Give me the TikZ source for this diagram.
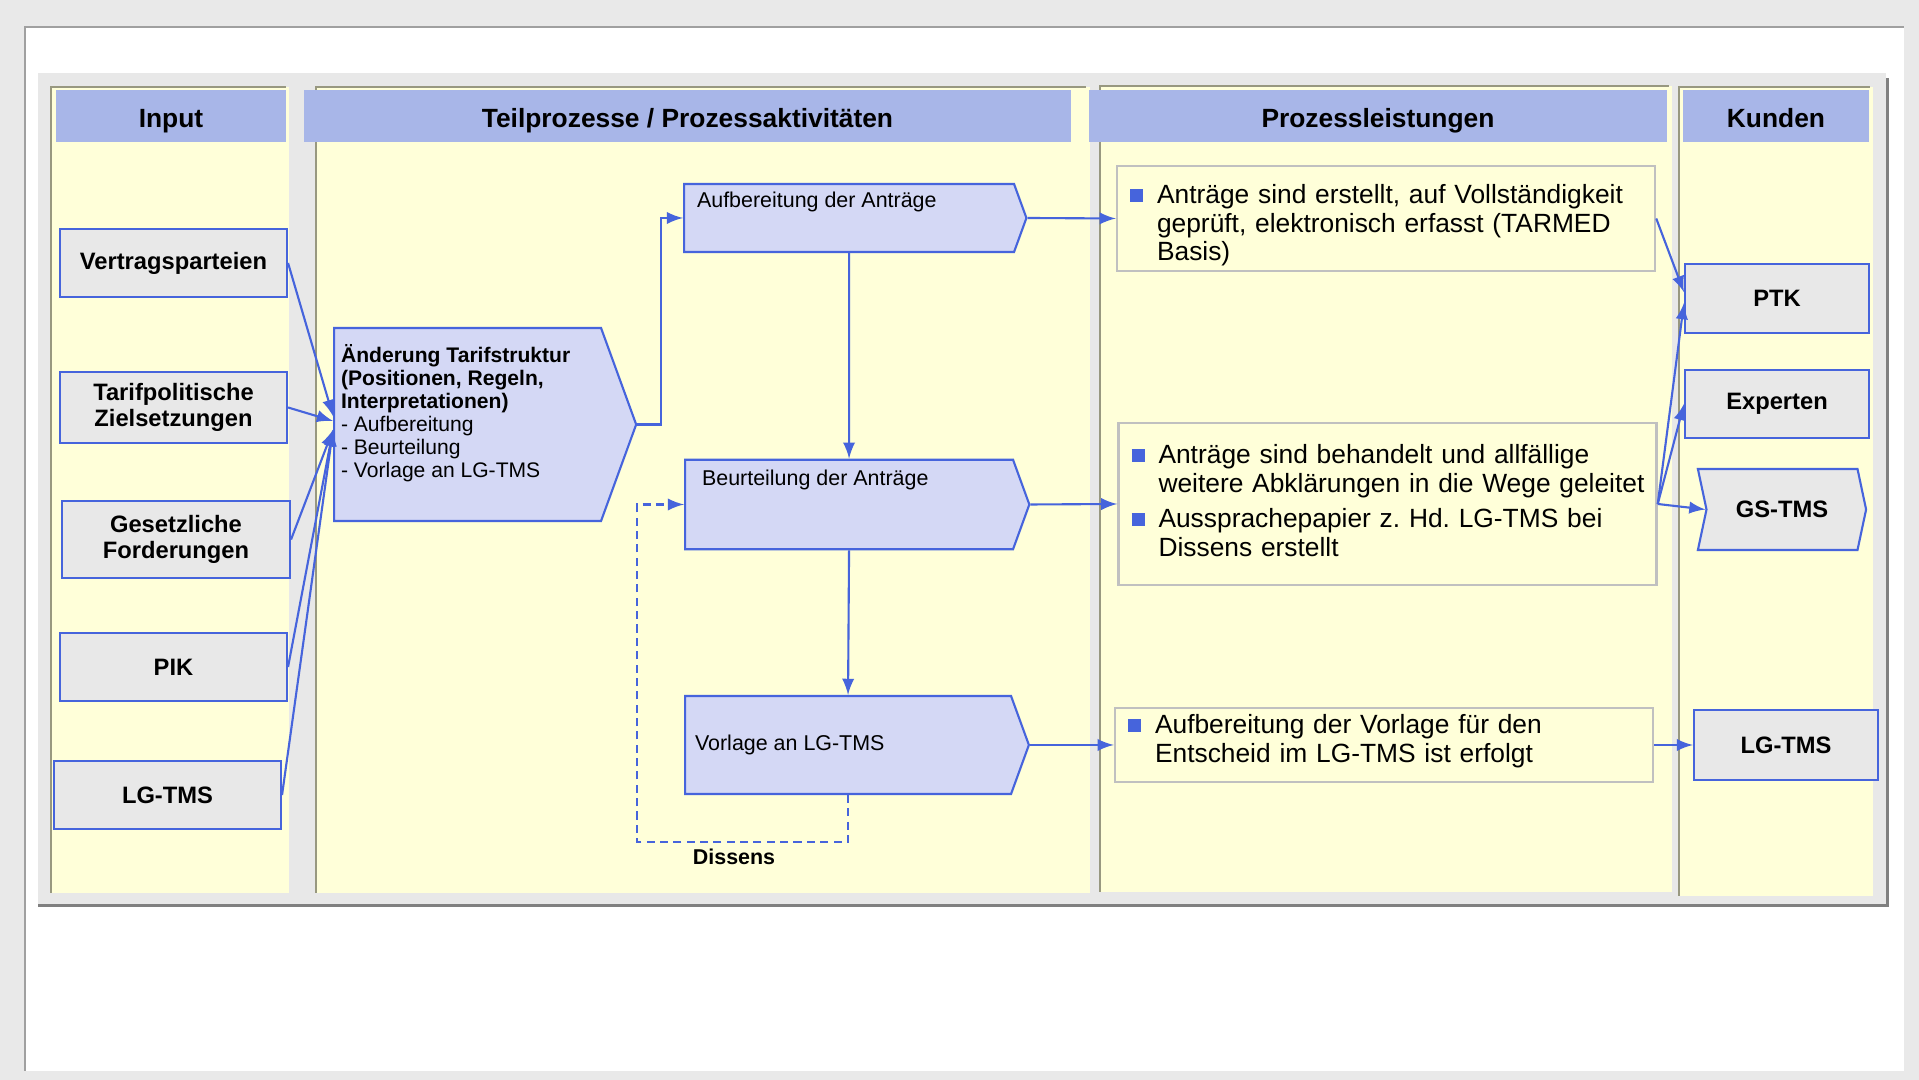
\documentclass[tikz,border=0pt]{standalone}
\usepackage{fontspec}
\setmainfont{Liberation Sans}
\usepackage{tikz}
\usetikzlibrary{arrows,shapes.symbols}

\definecolor{pagegray}{RGB}{233,233,233}
\definecolor{framegray}{RGB}{160,160,160}
\definecolor{panelgray}{RGB}{232,232,232}
\definecolor{shadowgray}{RGB}{128,128,128}
\definecolor{colyellow}{RGB}{255,255,217}
\definecolor{colline}{RGB}{152,152,128}
\definecolor{headblue}{RGB}{168,182,232}
\definecolor{lineblue}{RGB}{70,100,220}
\definecolor{procfill}{RGB}{212,216,245}
\definecolor{boxgray}{RGB}{232,232,232}
\definecolor{resgray}{RGB}{192,192,192}

\newcommand{\bul}{\makebox[0.27cm][l]{\textcolor{lineblue}{\rule[0.5pt]{3.8pt}{3.7pt}}}}
\newcommand{\bulind}{\hspace*{0.27cm}}

\begin{document}
\frenchspacing
\begin{tikzpicture}[
		colhead/.style={fill=headblue,inner sep=0pt,minimum height=0.52cm,text height=6.66pt,text depth=0pt,font=\fontsize{7.5}{9}\selectfont\bfseries},
		inbox/.style={draw=lineblue,fill=boxgray,line width=0.6pt,align=center,minimum height=0.68cm,font=\fontsize{6.75}{7.3}\selectfont\bfseries},
		procbox/.style={signal,signal to=east,signal pointer angle=140,draw=lineblue,fill=procfill,line width=0.6pt,font=\fontsize{6.1}{6.7}\selectfont},
		resbox/.style={draw=resgray,fill=colyellow,line width=0.7pt,text width=5.12cm,inner xsep=0.13cm,inner ysep=0pt,align=left,font=\fontsize{7.5}{8.1}\selectfont},
		conn/.style={lineblue,line width=0.6pt,-latex},
	]
		\useasboundingbox (0,0) rectangle (19.19,10.80);
%		\draw[help lines] (0,0) grid (19,10);

		% frame and panel
		\fill[pagegray] (0,0) rectangle (19.19,10.80);
		\fill[white] (0.25,0.09) rectangle (19.04,10.53);
		\draw[framegray,line width=0.02cm] (0.25,0.09) -- (0.25,10.53) -- (19.04,10.53);
		\fill[panelgray] (0.38,1.76) rectangle (18.86,10.07);
		\draw[shadowgray,line width=0.03cm] (0.38,1.745) -- (18.875,1.745) -- (18.875,10.02);

		% columns
		\fill[colyellow] (0.51,1.87) rectangle (2.89,9.93);
		\draw[colline,line width=0.6pt] (0.51,1.87) -- (0.51,9.93) -- (2.86,9.93);
		\fill[colyellow] (3.16,1.87) rectangle (10.90,9.93);
		\draw[colline,line width=0.6pt] (3.16,1.87) -- (3.16,9.93) -- (10.86,9.93);
		\fill[colyellow] (11.00,1.88) rectangle (16.72,9.94);
		\draw[colline,line width=0.6pt] (11.00,1.88) -- (11.00,9.94) -- (16.69,9.94);
		\fill[colyellow] (16.79,1.84) rectangle (18.73,9.93);
		\draw[colline,line width=0.6pt] (16.79,1.84) -- (16.79,9.93) -- (18.70,9.93);

		\path (1.71,9.64) coordinate (hin_c);
		\path (6.875,9.64) coordinate (hproc_c);
		\path (13.78,9.64) coordinate (hres_c);
		\path (17.76,9.64) coordinate (hcus_c);

		\path (1.735,8.17) coordinate (vp_c);
		\path (1.735,6.725) coordinate (tz_c);
		\path (1.76,5.405) coordinate (gf_c);
		\path (1.735,4.13) coordinate (pik_c);
		\path (1.675,2.85) coordinate (lgi_c);

		\path (3.33,6.555) coordinate (aend_w);
		\path (6.83,8.62) coordinate (aufb_w);
		\path (6.84,5.755) coordinate (beur_w);
		\path (6.84,3.35) coordinate (vorl_w);
		\path (6.37,2.38) coordinate (loop_c);
		\path (7.34,2.23) coordinate (dissens_c);

		\path (13.86,8.615) coordinate (r1_c);
		\path (13.875,5.76) coordinate (r2_c);
		\path (13.84,3.35) coordinate (r3_c);

		\path (17.77,7.815) coordinate (ptk_c);
		\path (17.77,6.76) coordinate (exp_c);
		\path (17.82,5.705) coordinate (gs_c);
		\path (17.86,3.35) coordinate (lgk_c);

		% headers
		\node (hin) [colhead,minimum width=2.30cm] at (hin_c) {Input};
		\node (hproc) [colhead,minimum width=7.67cm] at (hproc_c) {Teilprozesse / Prozessaktivitäten};
		\node (hres) [colhead,minimum width=5.78cm] at (hres_c) {Prozessleistungen};
		\node (hcus) [colhead,minimum width=1.86cm] at (hcus_c) {Kunden};

		% input
		\node (vp) [inbox,minimum width=2.27cm] at (vp_c) {Vertragsparteien};
		\node (tz) [inbox,minimum width=2.27cm,minimum height=0.69cm] at (tz_c) {Tarifpolitische\\Zielsetzungen};
		\node (gf) [inbox,minimum width=2.28cm,minimum height=0.77cm] at (gf_c) {Gesetzliche\\Forderungen};
		\node (pik) [inbox,minimum width=2.27cm] at (pik_c) {PIK};
		\node (lgi) [inbox,minimum width=2.27cm] at (lgi_c) {LG-TMS};

		% teilprozesse
		\node (aend) [procbox,anchor=west,inner xsep=0.07cm,inner ysep=0.17cm,font=\fontsize{6}{6.5}\selectfont] at (aend_w)
			{\parbox[c][1.59cm][t]{2.53cm}{\textbf{Änderung Tarifstruktur\\(Positionen, Regeln,\\Interpretationen)}\\- Aufbereitung\\- Beurteilung\\- Vorlage an LG-TMS}};
		\node (aufb) [procbox,anchor=west,inner xsep=0.13cm,inner ysep=0.077cm] at (aufb_w)
			{\parbox[c][0.526cm][t]{3.04cm}{Aufbereitung der Anträge}};
		\node (beur) [procbox,anchor=west,inner xsep=0.17cm,inner ysep=0.10cm] at (beur_w)
			{\parbox[c][0.695cm][t]{2.94cm}{Beurteilung der Anträge}};
		\node (vorl) [procbox,anchor=west,inner xsep=0.10cm,inner ysep=0.10cm] at (vorl_w)
			{\parbox[c][0.78cm][c]{3.06cm}{Vorlage an LG-TMS}};
		\node (dissens) [font=\fontsize{6.1}{7}\selectfont\bfseries] at (dissens_c) {Dissens};

		% prozessleistungen
		\node (r1) [resbox,minimum height=1.05cm] at (r1_c)
			{\rule{0pt}{9.3pt}\bul Anträge sind erstellt, auf Vollständigkeit\\\bulind geprüft, elektronisch erfasst (TARMED\\\bulind Basis)};
		\node (r2) [resbox,minimum height=1.62cm] at (r2_c)
			{\bul Anträge sind behandelt und allfällige\\\bulind\mbox{weitere Abklärungen in die Wege geleitet}\\[1.9pt]\bul Aussprachepapier z. Hd. LG-TMS bei\\\bulind Dissens erstellt\rule[-2pt]{0pt}{2pt}};
		\node (r3) [resbox,minimum height=0.74cm] at (r3_c)
			{\bul Aufbereitung der Vorlage für den\\\bulind Entscheid im LG-TMS ist erfolgt\rule[-3.6pt]{0pt}{3.6pt}};

		% kunden
		\node (ptk) [inbox,minimum width=1.84cm,minimum height=0.69cm] at (ptk_c) {PTK};
		\node (exp) [inbox,minimum width=1.84cm] at (exp_c) {Experten};
		\node (gs) [inbox,signal,signal from=west,signal to=east,signal pointer angle=156,inner xsep=0.105cm,inner ysep=0.105cm] at (gs_c)
			{\parbox[c][0.6cm][c]{1.30cm}{\centering GS-TMS}};
		\node (lgk) [inbox,minimum width=1.84cm,minimum height=0.70cm] at (lgk_c) {LG-TMS};

		% connectors
		\draw[conn] (vp.east) -- ([yshift=2.4pt]aend.west);
		\draw[conn] (tz.east) -- ([yshift=1pt]aend.west);
		\draw[conn] (gf.east) -- ([yshift=-1.5pt]aend.west);
		\draw[conn] (pik.east) -- ([yshift=-1.5pt]aend.west);
		\draw[conn] (lgi.east) -- ([yshift=-1.5pt]aend.west);

		\draw[conn] (aend.east) -- ++(0.235,0) |- (aufb.west);
		\draw[conn] (aufb.south) -- (beur.north);
		\draw[conn] (beur.south) -- (vorl.north);
		\draw[conn,dash pattern=on 2.3pt off 1.5pt] (vorl.south) |- (loop_c) |- (beur.west);

		\draw[conn] (aufb.east) -- (r1.west);
		\draw[conn] (beur.east) -- (r2.west);
		\draw[conn] (vorl.east) -- (r3.west);

		\draw[conn] (r1.east) -- ([yshift=1.8pt]ptk.west);
		\draw[conn] (r2.east) -- ([yshift=-1.3pt]ptk.west);
		\draw[conn] (r2.east) -- (exp.west);
		\draw[conn] (r2.east) -- (gs.west);
		\draw[conn] (r3.east) -- (lgk.west);

	\end{tikzpicture}
\end{document}
